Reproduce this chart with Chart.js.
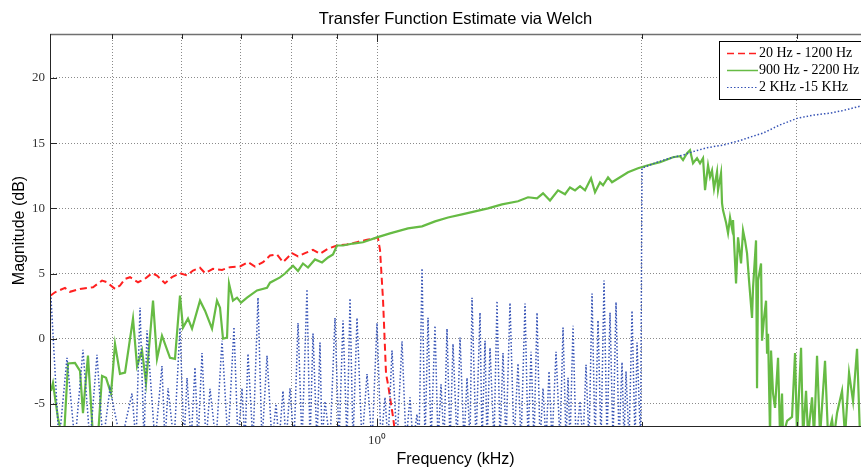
<!DOCTYPE html>
<html>
<head>
<meta charset="utf-8">
<script src="https://cdn.jsdelivr.net/npm/chart.js@4/dist/chart.umd.min.js"></script>
<style>
html,body{margin:0;padding:0;background:#fff;}
canvas{display:block;}
</style>
</head>
<body>
<canvas id="c" width="861" height="469"></canvas>
<script>
// ---- data (frequency in kHz, magnitude in dB) ----
const redFreq = [0.4258,0.4306,0.4420,0.4478,0.4597,0.4694,0.4756,0.4870,0.4934,0.5038,
  0.5104,0.5172,0.5240,0.5351,0.5449,0.5550,0.5623,0.5742,0.5848,0.5972,
  0.6083,0.6179,0.6293,0.6376,0.6511,0.6666,0.6807,0.6987,0.7135,0.7267,
  0.7421,0.7558,0.7698,0.7819,0.8006,0.8133,0.8283,0.8458,0.8614,0.8797,
  0.9006,0.9245,0.9490,0.9742,1.0000,1.0026,1.0079,1.0158,1.0239,1.0292,
  1.0428,1.0510];
const redMag = [3.31,3.56,3.9,3.6,3.82,3.9,3.95,4.46,4.33,3.82,
  4.08,4.59,4.72,4.33,4.59,5.03,4.85,4.26,4.72,5.03,
  4.85,5.23,5.44,5.03,5.36,5.28,5.49,5.54,5.87,5.54,
  5.87,6.38,6.46,5.87,6.56,6.31,6.56,6.82,6.51,6.9,
  7.15,7.23,7.41,7.59,7.74,7.7,6.8,3.0,-2.7,-3.5,
  -6.0,-7.8];

const greenFreq = [0.4261,0.4283,0.4340,0.4386,0.4409,0.4455,0.4537,0.4597,0.4633,0.4694,
  0.4756,0.4819,0.4870,0.4921,0.4986,0.5038,0.5104,0.5172,0.5281,0.5337,
  0.5407,0.5464,0.5565,0.5623,0.5697,0.5818,0.5894,0.5972,0.6019,0.6098,
  0.6163,0.6293,0.6376,0.6494,0.6579,0.6631,0.6683,0.6754,0.6789,0.6860,
  0.6933,0.7006,0.7117,0.7305,0.7499,0.7558,0.7758,0.7860,0.7964,0.8027,
  0.8133,0.8239,0.8348,0.8502,0.8660,0.8797,0.8912,0.9006,0.9149,0.9391,
  0.9640,1.0000,1.0346,1.0845,1.1250,1.1639,1.2042,1.2491,1.2923,1.3370,
  1.3869,1.4462,1.4846,1.5200,1.5440,1.5725,1.6058,1.6355,1.6570,1.6789,
  1.7010,1.7234,1.7507,1.7690,1.7924,1.8065,1.8303,1.8495,1.8887,1.9286,
  1.9797,2.0322,2.0971,2.1696,2.2097,2.2271,2.2506,
  2.2683,2.2862,2.3103,2.3284,2.3468,2.3591,2.3777,2.3902,2.4027,2.4153,
  2.4344,2.4408,2.4599,2.4664,2.4729,2.4924,2.5055,2.5186,2.5318,2.5384,
  2.5585,2.5719,2.5922,2.6057,2.6194,2.6332,2.6470,2.6679,2.6748,2.6959,
  2.7030,2.7101,2.7315,2.7386,2.7530,2.7674,2.7747,2.7820,2.7966,2.8039,
  2.8185,2.8333,2.8557,2.8707,2.8857,2.8933,2.9237,2.9622,2.9856,3.0013,
  3.0329,3.0487,3.0728,3.0889,3.1214,3.1377,3.1625,3.1874,3.2293,3.2549,
  3.2891,3.3063,3.3324,3.3763,3.4029,3.4387,3.4749,3.5115,3.5391];
const greenMag = [-4.0,-3.4,-6.1,-7.5,-7.5,-1.9,-1.85,-2.46,-5.7,-1.3,
  -7.5,-7.5,-2.85,-3.0,-4.2,-0.4,-2.7,-2.6,1.54,-2.1,
  -0.9,-3.4,2.92,-1.55,0.23,-1.46,-1.55,3.3,0.85,1.54,
  0.77,2.92,2.15,0.77,2.92,2.38,0.0,0.08,4.23,2.92,
  3.15,2.77,3.15,3.7,3.9,4.3,4.7,5.0,5.38,5.6,
  5.2,5.77,5.46,6.08,5.85,6.23,6.46,7.15,7.15,7.3,
  7.4,7.77,8.08,8.46,8.62,9.0,9.3,9.54,9.77,10.0,
  10.3,10.54,10.85,10.77,11.15,10.6,11.38,11.08,11.6,11.38,
  11.7,11.38,12.3,11.23,12.0,11.77,12.38,12.0,12.38,12.77,
  13.08,13.3,13.54,13.92,14.0,13.7,14.23,
  14.46,13.46,13.85,13.46,13.85,11.4,13.3,12.4,12.9,11.5,
  12.8,11.4,12.7,10.4,9.85,8.92,8.1,9.3,8.46,9.1,
  4.23,7.77,5.77,8.3,7.54,6.54,4.46,1.6,3.9,7.54,
  -3.8,4.46,5.77,-0.15,1.6,2.92,-1.15,0.38,-7.5,-0.9,
  -4.2,-5.3,-1.46,-7.5,-4.2,-7.5,-6.3,-6.0,-1.1,-7.5,
  -0.7,-7.5,-4.0,-7.5,-4.5,-7.5,-1.3,-7.5,-1.7,-7.5,
  -6.2,-7.5,-5.7,-4.0,-7.5,-2.6,-4.8,-0.77,-7.5];

const blueFreq = [0.4261,0.4351,0.4443,0.4537,0.4633,0.4719,0.4806,0.4882,0.4972,0.5118,
  0.5267,0.5323,0.5379,0.5435,0.5478,0.5594,0.5697,0.5742,0.5788,0.5879,
  0.5972,0.6035,0.6083,0.6147,0.6211,0.6260,0.6326,0.6393,0.6460,0.6562,
  0.6666,0.6771,0.6878,0.6951,0.7024,0.7079,0.7135,0.7229,0.7324,0.7401,
  0.7499,0.7598,0.7678,0.7738,0.7819,0.7881,0.7964,0.8048,0.8133,0.8218,
  0.8326,0.8392,0.8458,0.8547,0.8614,0.8660,0.8728,0.8843,0.8959,0.9053,
  0.9149,0.9245,0.9318,0.9391,0.9490,0.9615,0.9742,0.9870,1.0000,1.0105,
  1.0211,1.0292,1.0400,1.0537,1.0676,1.0788,1.0902,1.0988,1.1103,1.1162,
  1.1250,1.1338,1.1428,1.1518,1.1639,1.1731,1.1823,1.1916,1.2010,1.2105,
  1.2200,1.2329,1.2426,1.2556,1.2656,1.2755,1.2822,1.2957,1.3093,1.3162,
  1.3266,1.3335,1.3440,1.3581,1.3689,1.3797,1.3905,1.4015,1.4162,1.4311,
  1.4462,1.4576,1.4730,1.4846,1.4963,1.5080,1.5200,1.5319,1.5440,1.5562,
  1.5684,1.5808,1.5974,1.6142,1.6270,1.6398,1.6484,1.6570,1.6701,1.6833,
  1.7010,1.7144,1.7279,1.7415,1.7553,1.7690,1.7830,1.7970,1.8112,1.8255,
  1.8399,1.8543,1.8690,1.8837,1.8986,1.9085,1.9185,1.9337,1.9489,1.9643,
  1.9746,1.9928,2.0006,2.0807,2.1696,2.2271,2.2862,2.3715,2.4729,2.5853,
  2.6539,2.7457,2.8707,3.0013,3.1296,3.2719,3.3850,3.5483];
const blueMag = [3.15,-8,-1.46,-8,-0.85,-8,-1.23,-8,-3.85,-8,
  -4.2,-8,2.38,-8,0.62,-8,-2.1,-8,-3.8,-8,
  0.85,-8,-3.0,-8,-2.2,-8,-1.1,-8,-3.85,-8,
  -0.15,-8,0.9,-8,-3.8,-8,-1.15,-8,3.15,-8,
  -1.3,-8,-5.0,-8,-4.0,-8,-3.8,-8,1.2,-8,
  3.8,-8,0.4,-8,-0.3,-8,-4.8,-8,1.6,-8,
  1.4,-8,3.1,-8,1.6,-8,-2.7,-8,1.2,-8,
  -4.5,-8,-0.9,-8,-0.2,-8,-4.5,-8,-5.8,-8,
  5.4,-8,1.6,-8,1.0,-8,-3.5,-8,0.77,-8,
  -0.4,-8,0.1,-8,-3.0,-8,3.15,-8,2.0,-8,
  -0.15,-8,-0.7,-8,2.9,-8,-1.1,-8,2.75,-8,
  -1.9,-8,2.7,-8,-1.0,-8,2.0,-8,-3.8,-8,
  -2.5,-8,-1.0,-8,0.85,-8,-3.0,-8,1.0,-8,
  -4.8,-8,-2.0,-8,3.46,-8,1.4,-8,4.46,-8,
  2.0,-8,2.8,-8,-1.8,-8,-2.5,-8,2.15,-8,
  -0.3,-8,13.08,13.54,13.92,14.08,14.35,14.65,14.85,15.2,
  15.46,15.77,16.4,16.9,17.15,17.3,17.5,17.85];

const seriesNames = ['20 Hz - 1200 Hz', '900 Hz - 2200 Hz', '2 KHz -15 KHz'];
const xGridTicks = [0.5, 0.6, 0.7, 0.8, 0.9, 1, 2, 3];
const yTicks = [-5, 0, 5, 10, 15, 20];

const toPoints = (xs, ys) => xs.map((f, i) => ({x: f, y: ys[i]}));

const framePlugin = {
  id: 'frame',
  afterDatasetsDraw(chart) {
    const {ctx, chartArea: a, scales: {x, y}} = chart;
    ctx.save();
    ctx.setLineDash([]);
    ctx.strokeStyle = '#707070';
    ctx.lineWidth = 1.5;
    ctx.beginPath();
    ctx.moveTo(a.left, a.top + 0.5);
    ctx.lineTo(a.right, a.top + 0.5);
    ctx.stroke();
    ctx.strokeStyle = '#262626';
    ctx.lineWidth = 1;
    ctx.beginPath();
    ctx.moveTo(a.left + 0.5, a.top);
    ctx.lineTo(a.left + 0.5, a.bottom);
    ctx.moveTo(a.left, a.bottom - 0.5);
    ctx.lineTo(a.right, a.bottom - 0.5);
    ctx.stroke();
    ctx.beginPath();
    xGridTicks.forEach(v => {
      const px = Math.round(x.getPixelForValue(v)) + 0.5;
      const len = v === 1 ? 8 : 5;
      ctx.moveTo(px, a.bottom);
      ctx.lineTo(px, a.bottom - len);
      ctx.moveTo(px, a.top);
      ctx.lineTo(px, a.top + len);
    });
    yTicks.forEach(v => {
      const py = Math.round(y.getPixelForValue(v)) + 0.5;
      ctx.moveTo(a.left, py);
      ctx.lineTo(a.left + 7, py);
    });
    ctx.stroke();
    ctx.restore();
  }
};

const legendPlugin = {
  id: 'boxLegend',
  afterDraw(chart) {
    const ctx = chart.ctx;
    ctx.save();
    ctx.setLineDash([]);
    ctx.fillStyle = '#ffffff';
    ctx.fillRect(719.5, 41.5, 170, 58);
    ctx.strokeStyle = '#000';
    ctx.lineWidth = 1;
    ctx.strokeRect(719.5, 41.5, 170, 58);
    const rows = [53.5, 70.5, 87.5];
    chart.data.datasets.forEach((ds, i) => {
      ctx.strokeStyle = ds.borderColor;
      ctx.lineWidth = i === 2 ? 1.2 : 1.5;
      ctx.setLineDash(ds.borderDash || []);
      ctx.beginPath();
      ctx.moveTo(727, rows[i]);
      ctx.lineTo(758, rows[i]);
      ctx.stroke();
      ctx.setLineDash([]);
      ctx.fillStyle = '#000';
      ctx.font = '14px "Liberation Serif"';
      ctx.textBaseline = 'middle';
      ctx.textAlign = 'left';
      ctx.fillText(ds.label, 759, rows[i]);
    });
    ctx.restore();
  }
};

new Chart(document.getElementById('c'), {
  type: 'line',
  data: {
    datasets: [
      {label: seriesNames[0], data: toPoints(redFreq, redMag), borderColor: '#ff2020',
       borderWidth: 2, borderDash: [7, 4], order: 2},
      {label: seriesNames[1], data: toPoints(greenFreq, greenMag), borderColor: '#66bb44',
       borderWidth: 2.2, order: 1},
      {label: seriesNames[2], data: toPoints(blueFreq, blueMag), borderColor: '#3552b5',
       borderWidth: 1.5, borderDash: [1.5, 2], order: 0}
    ]
  },
  options: {
    responsive: false,
    animation: false,
    devicePixelRatio: 1,
    layout: {padding: 0},
    elements: {point: {radius: 0}, line: {tension: 0, fill: false}},
    plugins: {
      legend: {display: false},
      tooltip: {enabled: false},
      title: {
        display: true,
        text: 'Transfer Function Estimate via Welch',
        fullSize: false,
        color: '#000',
        font: {family: '"Liberation Sans", Arial, sans-serif', size: 16.5, weight: 'normal'},
        padding: {top: 9.5, bottom: 4.7}
      }
    },
    scales: {
      x: {
        type: 'logarithmic',
        min: 0.425,
        max: 3.548,
        afterBuildTicks: s => { s.ticks = xGridTicks.map(v => ({value: v})); },
        afterFit: s => { s.height = 42; },
        ticks: {
          autoSkip: false, maxRotation: 0, padding: 6, color: '#333',
          font: {family: '"Liberation Serif", serif', size: 13},
          callback: v => (v === 1 ? '10⁰' : '')
        },
        grid: {color: '#8a8a8a', lineWidth: 1, drawTicks: false},
        border: {display: false, dash: [1, 2]},
        title: {
          display: true, text: 'Frequency (kHz)', color: '#000',
          font: {family: '"Liberation Sans", Arial, sans-serif', size: 16},
          padding: {top: 0, bottom: 0}
        }
      },
      y: {
        type: 'linear',
        min: -6.77,
        max: 23.37,
        afterBuildTicks: s => { s.ticks = yTicks.map(v => ({value: v})); },
        afterFit: s => { s.width = 50; },
        ticks: {
          padding: 5, color: '#333',
          font: {family: '"Liberation Serif", serif', size: 13},
          callback: v => String(v)
        },
        grid: {color: '#8a8a8a', lineWidth: 1, drawTicks: false},
        border: {display: false, dash: [1, 2]},
        title: {
          display: true, text: 'Magnitude (dB)', color: '#000',
          font: {family: '"Liberation Sans", Arial, sans-serif', size: 16},
          padding: {top: 10, bottom: 0}
        }
      }
    }
  },
  plugins: [framePlugin, legendPlugin]
});
</script>
</body>
</html>
